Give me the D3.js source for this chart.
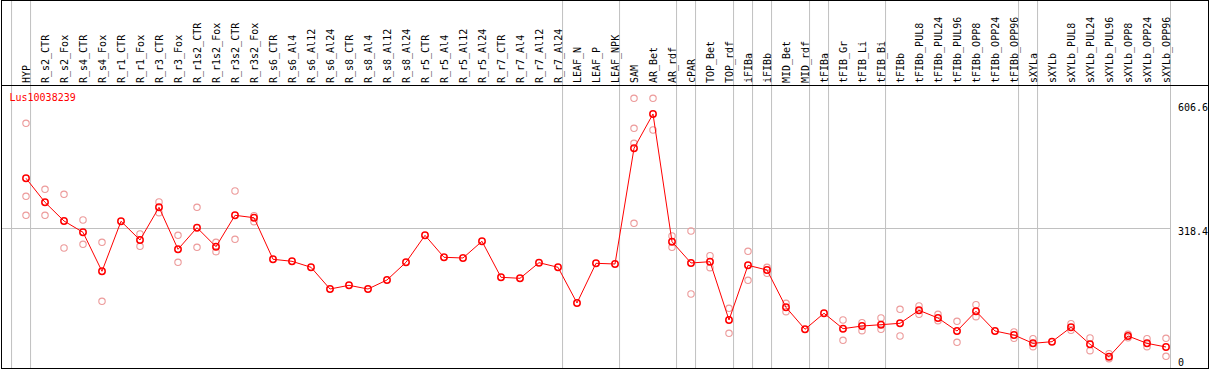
<!DOCTYPE html>
<html lang="en">
<head>
    <meta charset="UTF-8">
    <title>Lus10038239</title>
    <script src="https://d3js.org/d3.v7.min.js"></script>
    <style>
        body { margin: 0; background: #fff; }
        svg { display: block; }
        text { font-family: "DejaVu Sans Mono", monospace; font-size: 10px; }
    </style>
</head>
<body>
<svg id="chart" width="1209" height="370"></svg>
<script>
    const geneName = "Lus10038239";

    const categories = ["HYP", "R_s2_CTR", "R_s2_Fox", "R_s4_CTR", "R_s4_Fox", "R_r1_CTR", "R_r1_Fox",
        "R_r3_CTR", "R_r3_Fox", "R_r1s2_CTR", "R_r1s2_Fox", "R_r3s2_CTR", "R_r3s2_Fox",
        "R_s6_CTR", "R_s6_Al4", "R_s6_Al12", "R_s6_Al24", "R_s8_CTR", "R_s8_Al4", "R_s8_Al12", "R_s8_Al24",
        "R_r5_CTR", "R_r5_Al4", "R_r5_Al12", "R_r5_Al24", "R_r7_CTR", "R_r7_Al4", "R_r7_Al12", "R_r7_Al24",
        "LEAF_N", "LEAF_P", "LEAF_NPK", "SAM", "AR_Bet", "AR_rdf", "cPAR", "TOP_Bet", "TOP_rdf",
        "iFIBa", "iFIBb", "MID_Bet", "MID_rdf", "tFIBa", "tFIB_Gr", "tFIB_Li", "tFIB_Bi",
        "tFIBb", "tFIBb_PUL8", "tFIBb_PUL24", "tFIBb_PUL96", "tFIBb_OPP8", "tFIBb_OPP24", "tFIBb_OPP96",
        "sXYLa", "sXYLb", "sXYLb_PUL8", "sXYLb_PUL24", "sXYLb_PUL96", "sXYLb_OPP8", "sXYLb_OPP24", "sXYLb_OPP96"];

    // mean expression per sample
    const means = [434.6, 378.8, 335.4, 309.1, 218.5, 334.7, 291.2,
        367.2, 269.6, 319.8, 275.6, 348.6, 343.0,
        246.4, 241.7, 227.8, 177.3, 185.9, 177.3, 198.3, 239.4,
        302.1, 251.0, 249.4, 288.2, 204.5, 202.2, 238.5, 227.8,
        144.8, 237.1, 235.4, 504.3, 584.1, 287.3, 237.8, 240.8, 105.3,
        232.4, 221.5, 134.8, 83.7, 120.9, 85.1, 91.3, 94.4,
        97.6, 127.8, 109.9, 79.7, 125.5, 79.7, 70.4,
        51.1, 54.9, 88.3, 48.8, 20.0, 68.1, 51.1, 42.5];

    // individual replicates (same order as categories)
    const replicates = [
        [562.4, 392.8, 348.6], [409.1, 348.6], [397.4, 272.6], [337.7, 281.2], [285.9, 148.7], [], [305.2, 276.6],
        [379.5, 354.7], [302.1, 239.4], [367.2, 274.3], [285.9, 264.0], [405.1, 292.8], [347.7, 333.8],
        [], [], [], [], [], [], [], [],
        [], [], [], [], [], [], [], [],
        [], [], [], [620.6, 550.8, 516.0, 330.0], [620.6, 546.9], [300.5, 274.3], [312.1, 165.7], [254.7, 226.8], [132.5, 74.4],
        [265.0, 197.6], [227.8, 213.8], [144.1, 124.6], [], [], [105.3, 58.1], [99.0, 80.4], [109.9, 83.7],
        [130.2, 68.1], [137.8, 118.5], [118.5, 103.7], [102.3, 53.5], [140.8, 113.0], [], [77.4, 62.8],
        [61.8, 43.2], [], [96.7, 81.3], [63.4, 33.9], [27.0, 15.3], [72.0, 64.0], [61.8, 43.2], [62.8, 20.9]];

    const yTicks = [0, 318.4, 606.6];
    const gridValues = [318.4];

    // first sample of each group gets a separator line on its left
    const groupStarts = ["HYP", "R_s2_CTR", "LEAF_N", "SAM", "cPAR", "TOP_Bet", "iFIBa", "iFIBb",
        "MID_Bet", "tFIBa", "tFIB_Gr", "tFIBb", "sXYLa", "sXYLb"];

    const W = 1209, H = 370;
    const headerY = 85.5, bottom = 368.5;
    const svg = d3.select("#chart");

    const x = d3.scalePoint().domain(categories).range([26, 1166]);
    const step = x.step();
    const y = d3.scaleLinear().domain([0, 606.6]).range([365.3, 104.3]);

    // separators
    const sepX = groupStarts.map(c => x(c) - step * 0.76).concat([x(categories[categories.length - 1]) + 4.5]);
    svg.append("g").selectAll("line")
        .data(sepX)
        .join("line")
        .attr("x1", d => d).attr("x2", d => d)
        .attr("y1", 0).attr("y2", bottom)
        .attr("stroke", "#c0c0c0").attr("stroke-width", 1);

    svg.append("g").selectAll("line")
        .data(gridValues)
        .join("line")
        .attr("x1", 1).attr("x2", 1170)
        .attr("y1", d => Math.round(y(d)) + 0.5).attr("y2", d => Math.round(y(d)) + 0.5)
        .attr("stroke", "#c0c0c0").attr("stroke-width", 1);

    // frame + header rule
    svg.append("rect")
        .attr("x", 1.5).attr("y", 0.5).attr("width", 1207).attr("height", 368)
        .attr("fill", "none").attr("stroke", "#000");
    svg.append("line")
        .attr("x1", 1).attr("x2", 1208).attr("y1", headerY).attr("y2", headerY)
        .attr("stroke", "#000");

    // sample labels (vertical)
    svg.append("g").selectAll("text")
        .data(categories)
        .join("text")
        .attr("transform", d => `translate(${x(d)},83) rotate(-90)`)
        .attr("dy", "0.36em")
        .attr("fill", "#000")
        .text(d => d);

    // right-hand value labels
    svg.append("g").selectAll("text")
        .data(yTicks)
        .join("text")
        .attr("x", 1178)
        .attr("y", d => Math.min(y(d) + 7, 366))
        .attr("fill", "#000")
        .text(d => d);

    svg.append("text")
        .attr("x", 9.5).attr("y", 100.5)
        .attr("fill", "#ff0000")
        .text(geneName);

    // replicate points
    const repData = replicates.flatMap((vals, i) => vals.map(v => ({ c: categories[i], v })));
    svg.append("g").selectAll("circle")
        .data(repData)
        .join("circle")
        .attr("cx", d => x(d.c)).attr("cy", d => y(d.v))
        .attr("r", 3.2)
        .attr("fill", "none")
        .attr("stroke", "#ec9a9a").attr("stroke-width", 1.1);

    // mean line
    const line = d3.line().x((d, i) => x(categories[i])).y(d => y(d));
    svg.append("path")
        .datum(means)
        .attr("d", line)
        .attr("fill", "none")
        .attr("stroke", "#ff0000").attr("stroke-width", 1);

    svg.append("g").selectAll("circle")
        .data(means)
        .join("circle")
        .attr("cx", (d, i) => x(categories[i])).attr("cy", d => y(d))
        .attr("r", 3.2)
        .attr("fill", "none")
        .attr("stroke", "#ff0000").attr("stroke-width", 1.5);
</script>
</body>
</html>
